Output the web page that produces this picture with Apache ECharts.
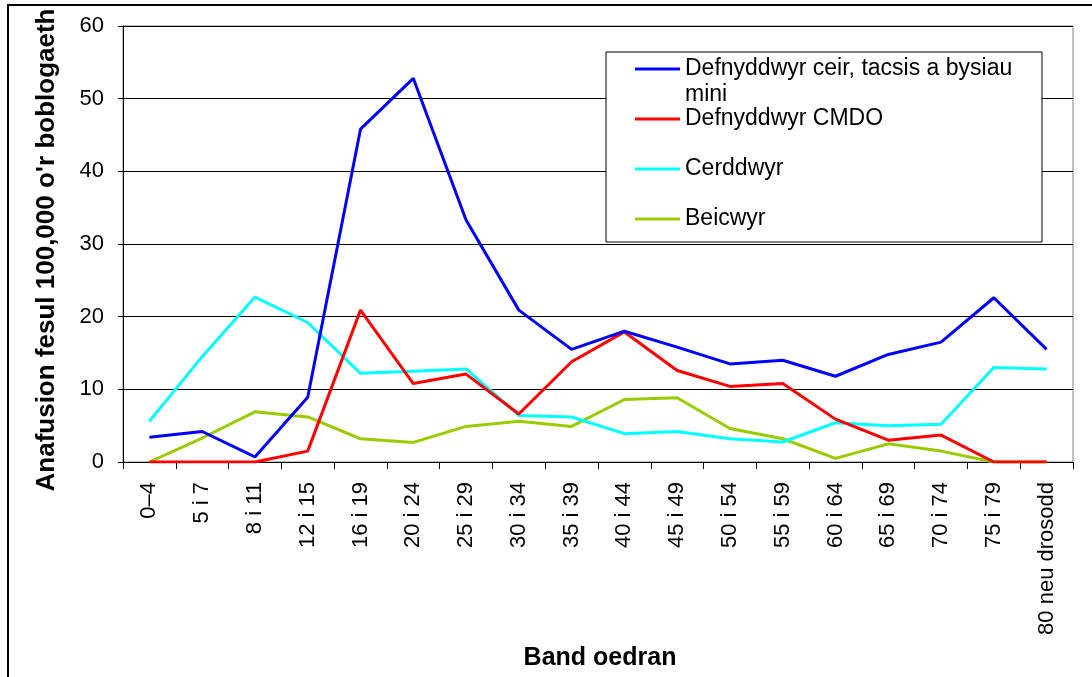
<!DOCTYPE html>
<html>
<head>
<meta charset="utf-8">
<script src="https://cdn.jsdelivr.net/npm/echarts@6/dist/echarts.min.js"></script>
<style>
html,body{margin:0;padding:0;background:#fff;}
#c{width:1092px;height:677px;}
</style>
</head>
<body>
<div id="c"></div>
<script>
const categories = ['0–4','5 i 7','8 i 11','12 i 15','16 i 19','20 i 24','25 i 29','30 i 34','35 i 39','40 i 44','45 i 49','50 i 54','55 i 59','60 i 64','65 i 69','70 i 74','75 i 79','80 neu drosodd'];
const seriesNames = ['Defnyddwyr ceir, tacsis a bysiau mini','Defnyddwyr CMDO','Cerddwyr','Beicwyr'];
const carUsers   = [3.4, 4.2, 0.7, 8.9, 45.8, 52.8, 33.3, 20.9, 15.5, 18.0, 15.8, 13.5, 14.0, 11.8, 14.8, 16.5, 22.6, 15.5];
const motoUsers  = [0, 0, 0, 1.5, 20.9, 10.8, 12.1, 6.6, 13.8, 17.9, 12.6, 10.4, 10.8, 5.9, 3.0, 3.7, 0, 0];
const pedestrians= [5.6, 14.5, 22.7, 19.2, 12.2, 12.5, 12.8, 6.4, 6.2, 3.9, 4.2, 3.2, 2.75, 5.4, 5.0, 5.2, 13.0, 12.8];
const cyclists   = [0, 3.3, 6.9, 6.2, 3.2, 2.7, 4.9, 5.6, 4.9, 8.6, 8.85, 4.6, 3.2, 0.5, 2.5, 1.5, 0, 0];
const yTicks = [0, 10, 20, 30, 40, 50, 60];

const colors = ['#0000FF', '#FF0000', '#00FFFF', '#99CC00'];
const values = [carUsers, motoUsers, pedestrians, cyclists];
const FONT = 'Liberation Sans, Arial, sans-serif';

const chart = echarts.init(document.getElementById('c'), null, {renderer: 'canvas'});

const legendBase = {
  orient: 'vertical',
  left: 635,
  padding: 0,
  itemWidth: 45,
  itemHeight: 3,
  itemGap: 0,
  icon: 'rect',
  z: 10,
  selectedMode: false,
  textStyle: {fontFamily: FONT, fontSize: 23, color: '#000', lineHeight: 26}
};
const legendCenters = [69, 119, 169, 219];
const legends = seriesNames.map((n, i) => {
  const l = Object.assign({}, legendBase, {data: [n], top: legendCenters[i] - 13});
  if (i === 0) {
    l.formatter = function () { return 'Defnyddwyr ceir, tacsis a bysiau'; };
  }
  return l;
});

const option = {
  animation: false,
  backgroundColor: '#fff',
  color: colors,
  textStyle: {fontFamily: FONT},
  grid: {left: 123, right: 19, top: 26, bottom: 215, show: true, borderColor: '#808080', borderWidth: 1, containLabel: false, outerBoundsMode: 'none'},
  legend: legends,
  graphic: [
    {type: 'rect', z: 100, silent: true, shape: {x: 8, y: 5, width: 1200, height: 800}, style: {fill: 'none', stroke: '#000', lineWidth: 2}},
    {type: 'rect', z: 5, silent: true, shape: {x: 606, y: 52, width: 436, height: 190}, style: {fill: '#fff', stroke: '#000', lineWidth: 1}},
    {type: 'text', z: 11, silent: true, left: 685, top: 82, style: {text: 'mini', fontFamily: FONT, fontSize: 23, fill: '#000', lineHeight: 26}}
  ],
  xAxis: {
    type: 'category',
    data: categories,
    boundaryGap: true,
    name: 'Band oedran',
    nameLocation: 'middle',
    nameGap: 184,
    nameTextStyle: {fontFamily: FONT, fontSize: 25, fontWeight: 'bold', color: '#000', padding: [0, 0, 0, 4]},
    axisLine: {lineStyle: {color: '#000', width: 1}},
    axisTick: {show: true, length: 7, lineStyle: {color: '#000'}},
    axisLabel: {rotate: 90, margin: 20, interval: 0, fontFamily: FONT, fontSize: 22, color: '#000'}
  },
  yAxis: {
    type: 'value',
    min: 0, max: 60, interval: 10,
    name: "Anafusion fesul 100,000 o'r boblogaeth",
    nameLocation: 'middle',
    nameGap: 63,
    nameTextStyle: {fontFamily: FONT, fontSize: 26, fontWeight: 'bold', color: '#000', padding: [0, 12, 0, 0]},
    axisLine: {show: true, lineStyle: {color: '#000', width: 1}},
    axisTick: {show: true, length: 5, lineStyle: {color: '#000'}},
    axisLabel: {margin: 19, fontFamily: FONT, fontSize: 22, color: '#000',
      formatter: function (v) { return yTicks.indexOf(v) >= 0 ? String(v) : ''; }},
    splitLine: {show: true, lineStyle: {color: '#000', width: 1}}
  },
  series: seriesNames.map((n, i) => ({
    name: n,
    type: 'line',
    data: values[i],
    symbol: 'none',
    showSymbol: false,
    lineStyle: {width: 3, color: colors[i]},
    itemStyle: {color: colors[i]},
    z: 2 + (3 - i)
  }))
};
chart.setOption(option);
</script>
</body>
</html>
